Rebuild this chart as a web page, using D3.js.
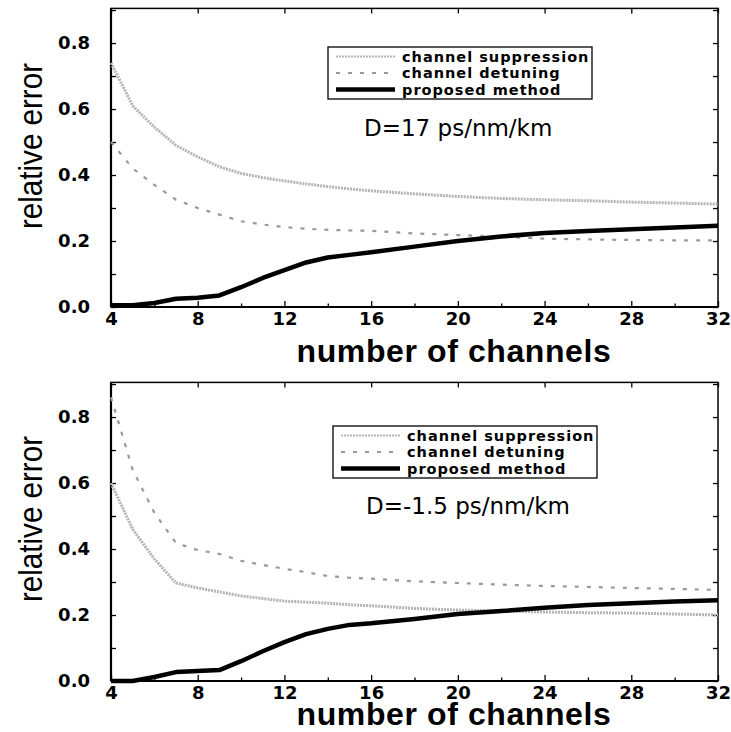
<!DOCTYPE html>
<html>
<head>
<meta charset="utf-8">
<script src="https://cdn.jsdelivr.net/npm/d3@7"></script>
<style>
  body { margin: 0; background: #fff; }
  svg { display: block; }
</style>
</head>
<body>
<div id="chart"></div>
<script>
// values
const channels = [4, 5, 6, 7, 8, 9, 10, 11, 12, 13, 14, 15, 16, 18, 20, 22, 24, 26, 28, 30, 32]

// top panel, D=17 ps/nm/km
const suppressionTop = [0.74, 0.61, 0.545, 0.49, 0.455, 0.425, 0.405, 0.392, 0.382, 0.373, 0.365, 0.358, 0.352, 0.343, 0.335, 0.329, 0.325, 0.322, 0.318, 0.315, 0.312]
const detuningTop = [0.50, 0.42, 0.37, 0.325, 0.30, 0.28, 0.26, 0.25, 0.242, 0.237, 0.234, 0.232, 0.231, 0.223, 0.218, 0.213, 0.207, 0.205, 0.203, 0.202, 0.202]
const proposedTop = [0.005, 0.005, 0.012, 0.025, 0.028, 0.035, 0.06, 0.088, 0.112, 0.135, 0.15, 0.158, 0.166, 0.183, 0.2, 0.214, 0.224, 0.23, 0.236, 0.241, 0.246]

// bottom panel, D=-1.5 ps/nm/km
const suppressionBottom = [0.60, 0.46, 0.37, 0.297, 0.282, 0.27, 0.258, 0.25, 0.242, 0.239, 0.236, 0.231, 0.228, 0.22, 0.215, 0.212, 0.209, 0.207, 0.206, 0.203, 0.2]
const detuningBottom = [0.86, 0.64, 0.51, 0.418, 0.397, 0.385, 0.364, 0.352, 0.34, 0.33, 0.318, 0.313, 0.31, 0.302, 0.297, 0.292, 0.288, 0.285, 0.282, 0.279, 0.276]
const proposedBottom = [0, 0, 0.012, 0.027, 0.03, 0.033, 0.06, 0.09, 0.118, 0.142, 0.158, 0.17, 0.175, 0.188, 0.203, 0.212, 0.222, 0.23, 0.236, 0.241, 0.245]

const seriesNames = ["channel suppression", "channel detuning", "proposed method"]
const xMajorTicks = [4, 8, 12, 16, 20, 24, 28, 32]
const xMinorTicks = [6, 10, 14, 18, 22, 26, 30]
const yTicks = [0, 0.1, 0.2, 0.3, 0.4, 0.5, 0.6, 0.7, 0.8, 0.9]

const styles = [
  { stroke: "#b4b4b4", width: 3, dash: "2,1" },
  { stroke: "#9a9a9a", width: 2.2, dash: "4,8" },
  { stroke: "#000", width: 4.5, dash: null }
]

const panels = [
  { top: 8.4, bottom: 307, series: [suppressionTop, detuningTop, proposedTop],
    note: "D=17 ps/nm/km", noteX: 364, noteY: 128,
    legend: { x: 328, y: 47 }, labelY: 146, titleBase: 362 },
  { top: 382.4, bottom: 681, series: [suppressionBottom, detuningBottom, proposedBottom],
    note: "D=-1.5 ps/nm/km", noteX: 366, noteY: 506,
    legend: { x: 333, y: 426 }, labelY: 519, titleBase: 725 }
]

const left = 111
const right = 718

const svg = d3.select("#chart").append("svg")
  .attr("width", 731)
  .attr("height", 732)

const xScale = d3.scaleLinear().domain([4, 32]).range([left, right])

panels.forEach(p => {
  const yScale = d3.scaleLinear().domain([0, 0.905]).range([p.bottom, p.top])
  const g = svg.append("g")

  // inward ticks on all four sides
  g.append("g")
    .attr("transform", `translate(0,${p.bottom})`)
    .call(d3.axisBottom(xScale).tickValues(xMinorTicks).tickSize(-3.5).tickFormat(""))
  g.append("g")
    .attr("class", "xlab")
    .attr("transform", `translate(0,${p.bottom})`)
    .call(d3.axisBottom(xScale).tickValues(xMajorTicks).tickSize(-6).tickPadding(5))
  g.append("g")
    .attr("transform", `translate(0,${p.top})`)
    .call(d3.axisTop(xScale).tickValues(xMajorTicks).tickSize(-5).tickFormat(""))
  g.append("g")
    .attr("class", "ylab")
    .attr("transform", `translate(${left},0)`)
    .call(d3.axisLeft(yScale).tickValues(yTicks).tickSize(-5).tickPadding(21)
      .tickFormat(d => Math.round(d * 10) % 2 === 0 && d < 0.85 ? d3.format(".1f")(d) : ""))
  g.append("g")
    .attr("transform", `translate(${right},0)`)
    .call(d3.axisRight(yScale).tickValues(yTicks).tickSize(-5).tickFormat(""))

  g.selectAll(".domain").remove()
  g.selectAll(".tick line").attr("stroke", "#000").attr("stroke-width", 1.3)
  g.selectAll(".xlab text, .ylab text")
    .attr("font-family", "DejaVu Sans")
    .attr("font-weight", "bold")
    .attr("font-size", 18)
    .attr("fill", "#000")

  // frame
  g.append("rect")
    .attr("x", left).attr("y", p.top)
    .attr("width", right - left).attr("height", p.bottom - p.top)
    .attr("fill", "none").attr("stroke", "#000").attr("stroke-width", 1.5)
  g.append("line")
    .attr("x1", left).attr("x2", left).attr("y1", p.top).attr("y2", p.bottom)
    .attr("stroke", "#000").attr("stroke-width", 2.2)
  g.append("line")
    .attr("x1", left).attr("x2", right).attr("y1", p.bottom).attr("y2", p.bottom)
    .attr("stroke", "#000").attr("stroke-width", 2.2)

  const line = d3.line()
    .x((d, i) => xScale(channels[i]))
    .y(d => yScale(d))

  p.series.forEach((values, i) => {
    g.append("path")
      .datum(values)
      .attr("d", line)
      .attr("fill", "none")
      .attr("stroke", styles[i].stroke)
      .attr("stroke-width", styles[i].width)
      .attr("stroke-dasharray", styles[i].dash)
      .attr("stroke-linejoin", "round")
  })

  // legend
  const lg = g.append("g").attr("transform", `translate(${p.legend.x},${p.legend.y})`)
  lg.append("rect")
    .attr("width", 264).attr("height", 52)
    .attr("fill", "#fff").attr("stroke", "#000").attr("stroke-width", 1.3)
  seriesNames.forEach((name, i) => {
    const yy = 9.5 + i * 16.5
    lg.append("line")
      .attr("x1", 8).attr("x2", 67).attr("y1", yy).attr("y2", yy)
      .attr("stroke", styles[i].stroke)
      .attr("stroke-width", i === 2 ? 4.5 : 2.2)
      .attr("stroke-dasharray", styles[i].dash)
    lg.append("text")
      .attr("x", 74).attr("y", yy)
      .attr("dy", "0.36em")
      .attr("font-family", "DejaVu Sans")
      .attr("font-weight", "bold")
      .attr("font-size", 14.5)
      .attr("letter-spacing", 1)
      .text(name)
  })

  g.append("text")
    .attr("x", p.noteX).attr("y", p.noteY)
    .attr("dy", "0.36em")
    .attr("font-family", "DejaVu Sans")
    .attr("font-size", 23)
    .text(p.note)

  // axis titles
  g.append("text")
    .attr("x", 454).attr("y", p.titleBase)
    .attr("text-anchor", "middle")
    .attr("font-family", "Liberation Sans")
    .attr("font-weight", "bold")
    .attr("font-size", 32)
    .attr("letter-spacing", 0.6)
    .text("number of channels")
  g.append("text")
    .attr("transform", `translate(42,${p.labelY}) rotate(-90) scale(0.87,1)`)
    .attr("text-anchor", "middle")
    .attr("font-family", "Liberation Sans")
    .attr("font-size", 34)
    .text("relative error")
})
</script>
</body>
</html>
